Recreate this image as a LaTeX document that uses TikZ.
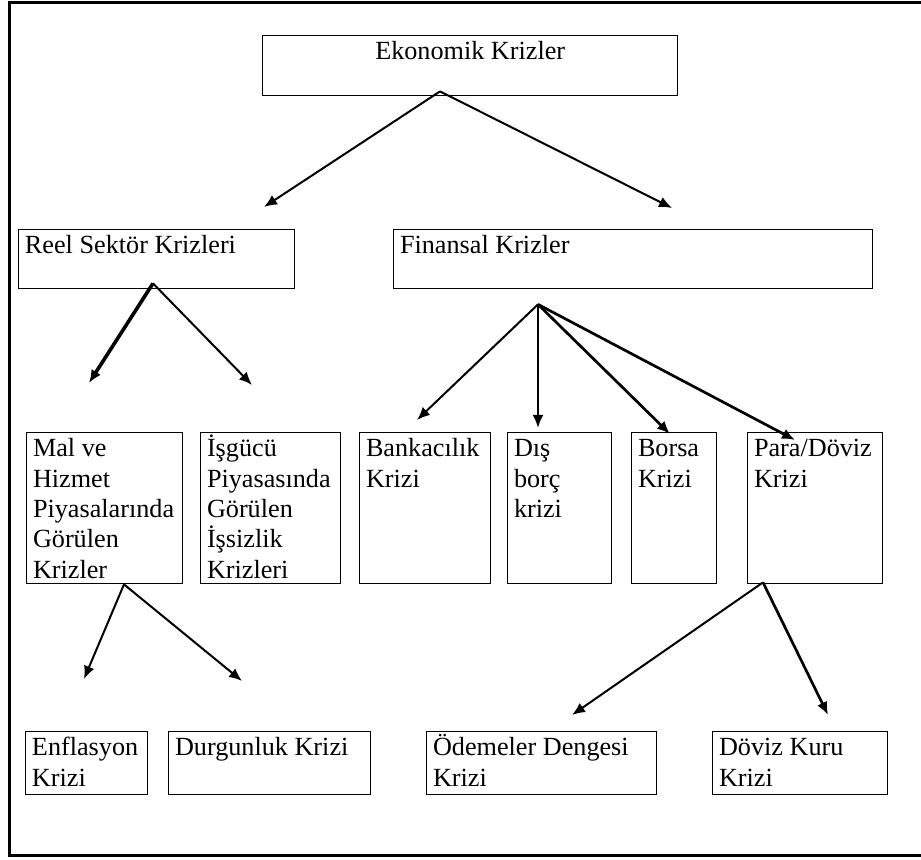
\documentclass[tikz,border=0pt]{standalone}
\usepackage{fontspec}
\setmainfont{Liberation Serif}
\usetikzlibrary{arrows.meta,calc}
\newcommand{\myst}{\rule{0pt}{0.9em}}
\begin{document}
\begin{tikzpicture}[x=0.5pt,y=-0.5pt,
  box/.style={draw, line width=0.7pt, anchor=north west, inner sep=0pt},
  lbl/.style={anchor=north west, align=left, inner xsep=3.3pt, inner ysep=0.4pt,
              font=\fontsize{13.1}{15.2}\selectfont, text=black},
  arr/.style={-{Latex[length=6.5pt,width=5.5pt]}, line width=1pt},
  thickarr/.style={arr, line width=1.8pt},
  midarr/.style={arr, line width=1.35pt},
  frame/.style={line width=1.5pt}]
\useasboundingbox (0,0) rectangle (921,860);
\draw[frame] (935,3) -- (9,3) -- (9,855) -- (935,855);

% level 0
\node[box, minimum width=207.5pt, minimum height=30pt,
  label={[lbl, anchor=north]north:\myst Ekonomik Krizler}] (ek) at (262,35) {};
% level 1
\node[box, minimum width=138pt, minimum height=29.5pt,
  label={[lbl]north west:\myst Reel Sektör Krizleri}] (reel) at (18,229) {};
\node[box, minimum width=239.5pt, minimum height=29.5pt,
  label={[lbl]north west:\myst Finansal Krizler}] (fin) at (393,229) {};
% level 2
\node[box, minimum width=78pt, minimum height=75.5pt,
  label={[lbl]north west:{\myst Mal ve\\Hizmet\\Piyasalarında\\Görülen\\Krizler}}] (mal) at (26,432) {};
\node[box, minimum width=70pt, minimum height=75.5pt,
  label={[lbl]north west:{\myst İşgücü\\Piyasasında\\Görülen\\İşsizlik\\Krizleri}}] (isg) at (200,432) {};
\node[box, minimum width=65.5pt, minimum height=75.5pt,
  label={[lbl]north west:{\myst Bankacılık\\Krizi}}] (bank) at (359,432) {};
\node[box, minimum width=52pt, minimum height=75.5pt,
  label={[lbl]north west:{\myst Dış\\borç\\krizi}}] (dis) at (507,432) {};
\node[box, minimum width=42.5pt, minimum height=75.5pt,
  label={[lbl]north west:{\myst Borsa\\Krizi}}] (borsa) at (631,432) {};
\node[box, minimum width=67.5pt, minimum height=75.5pt,
  label={[lbl]north west:{\myst Para/Döviz\\Krizi}}] (para) at (747,432) {};
% level 3
\node[box, minimum width=61pt, minimum height=31.5pt,
  label={[lbl]north west:{\myst Enflasyon\\Krizi}}] (enf) at (25,731) {};
\node[box, minimum width=101pt, minimum height=31.5pt,
  label={[lbl]north west:{\myst Durgunluk Krizi}}] (durg) at (168,731) {};
\node[box, minimum width=115pt, minimum height=31.5pt,
  label={[lbl]north west:{\myst Ödemeler Dengesi\\Krizi}}] (odem) at (426,731) {};
\node[box, minimum width=87.5pt, minimum height=31.5pt,
  label={[lbl]north west:{\myst Döviz Kuru\\Krizi}}] (doviz) at (712,731) {};

% arrow tips (free ends)
\coordinate (tReel) at (264,207);
\coordinate (tFin) at (672,208);
\coordinate (tMal) at (89,383);
\coordinate (tIsg) at (252,385);
\coordinate (tBank) at (417,420);
\coordinate (tDis) at (538,428);
\coordinate (tBorsa) at (670,434);
\coordinate (tPara) at (795,440);
\coordinate (tEnf) at (84,679);
\coordinate (tDurg) at (242,681);
\coordinate (tOdem) at (572,715);
\coordinate (tDoviz) at (828,715);

\draw[arr] ($(ek.south west)+(178,-5)$) -- (tReel);
\draw[arr] ($(ek.south west)+(178,-5)$) -- (tFin);
\draw[thickarr] ($(reel.south west)+(135,-6)$) -- (tMal);
\draw[arr] ($(reel.south west)+(135,-6)$) -- (tIsg);
\draw[arr] ($(fin.south west)+(145,15)$) -- (tBank);
\draw[midarr] ($(fin.south west)+(145,15)$) -- (tDis);
\draw[midarr] ($(fin.south west)+(145,15)$) -- (tBorsa);
\draw[midarr] ($(fin.south west)+(145,15)$) -- (tPara);
\draw[arr] ($(mal.south west)+(98,0)$) -- (tEnf);
\draw[arr] ($(mal.south west)+(98,0)$) -- (tDurg);
\draw[arr] ($(para.south west)+(16,-2)$) -- (tOdem);
\draw[midarr] ($(para.south west)+(16,-2)$) -- (tDoviz);
\end{tikzpicture}
\end{document}
